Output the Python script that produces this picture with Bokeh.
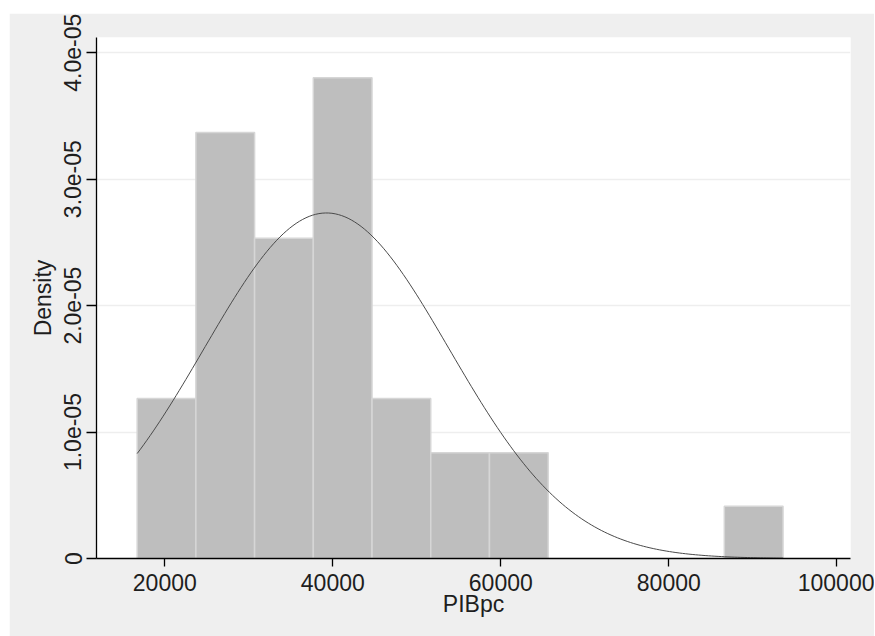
import math
from bokeh.plotting import figure
from bokeh.models import Range1d, FixedTicker, CustomJSTickFormatter, Spacer
from bokeh.layouts import column, row
from bokeh.embed import file_html
from bokeh.resources import INLINE

# ---- data ----
bin_left = [16710, 23700, 30690, 37680, 44670, 51660, 58650, 65640, 72630, 79620, 86610]
bin_right = [23700, 30690, 37680, 44670, 51660, 58650, 65640, 72630, 79620, 86610, 93600]
density = [1.265e-5, 3.368e-5, 2.533e-5, 3.802e-5, 1.265e-5, 0.836e-5, 0.836e-5, 0.0, 0.0, 0.0, 0.414e-5]

normal_mean = 39250
normal_sd = 14600

x_ticks = [20000, 40000, 60000, 80000, 100000]
y_ticks = [0, 1e-5, 2e-5, 3e-5, 4e-5]

# ---- build ----
FONT = "Liberation Sans"
FS = "23px"
TXT = "#1e1e1e"

p = figure(width=865, height=623, output_backend="svg", toolbar_location=None,
           x_range=Range1d(11869, 101631), y_range=Range1d(0, 4.12e-5),
           min_border_left=87, min_border_right=24, min_border_top=24, min_border_bottom=78)
p.border_fill_color = "#efefef"
p.background_fill_color = "white"
p.outline_line_color = None

# bars (skip empty bins)
L = [l for l, d in zip(bin_left, density) if d > 0]
R = [r for r, d in zip(bin_right, density) if d > 0]
D = [d for d in density if d > 0]
p.quad(left=L, right=R, bottom=0, top=D, fill_color="#bebebe",
       line_color="#d6d6d6", line_width=1.5)

# normal density overlay
n = 200
xs = [bin_left[0] + (bin_right[-1] - bin_left[0]) * i / (n - 1) for i in range(n)]
ys = [math.exp(-0.5 * ((x - normal_mean) / normal_sd) ** 2) / (normal_sd * math.sqrt(2 * math.pi)) for x in xs]
p.line(xs, ys, line_color="#4a4a4a", line_width=1)

# grids
p.xgrid.visible = False
p.ygrid.ticker = FixedTicker(ticks=y_ticks)
p.ygrid.grid_line_color = "#eeeeee"
p.ygrid.grid_line_width = 1.5

# x axis
xa = p.xaxis[0]
xa.ticker = FixedTicker(ticks=x_ticks)
xa.formatter = CustomJSTickFormatter(code="return tick.toFixed(0);")
xa.axis_label = "PIBpc"
xa.axis_line_color = "black"
xa.axis_line_width = 1.3
xa.major_tick_line_color = "black"
xa.major_tick_line_width = 1.3
xa.major_tick_out = 8
xa.major_tick_in = 0
xa.minor_tick_line_color = None
xa.major_label_text_font = FONT
xa.major_label_text_font_size = FS
xa.major_label_text_color = TXT
xa.major_label_standoff = 7
xa.axis_label_text_font = FONT
xa.axis_label_text_font_size = FS
xa.axis_label_text_font_style = "normal"
xa.axis_label_text_color = TXT
xa.axis_label_standoff = -3

# y axis
ya = p.yaxis[0]
ya.ticker = FixedTicker(ticks=y_ticks)
ya.formatter = CustomJSTickFormatter(code="if (tick == 0) { return '0'; } return (tick * 1e5).toFixed(1) + 'e-05';")
ya.axis_label = "Density"
ya.axis_line_color = "black"
ya.axis_line_width = 1.3
ya.major_tick_line_color = "black"
ya.major_tick_line_width = 1.3
ya.major_tick_out = 10
ya.major_tick_in = 0
ya.minor_tick_line_color = None
ya.major_label_orientation = "vertical"
ya.major_label_text_font = FONT
ya.major_label_text_font_size = FS
ya.major_label_text_color = TXT
ya.major_label_standoff = 5
ya.axis_label_text_font = FONT
ya.axis_label_text_font_size = FS
ya.axis_label_text_font_style = "normal"
ya.axis_label_text_color = TXT
ya.axis_label_standoff = 6

layout = row(Spacer(width=9, height=636), column(Spacer(width=865, height=13), p))
open("out.html", "w").write(file_html(layout, INLINE))
